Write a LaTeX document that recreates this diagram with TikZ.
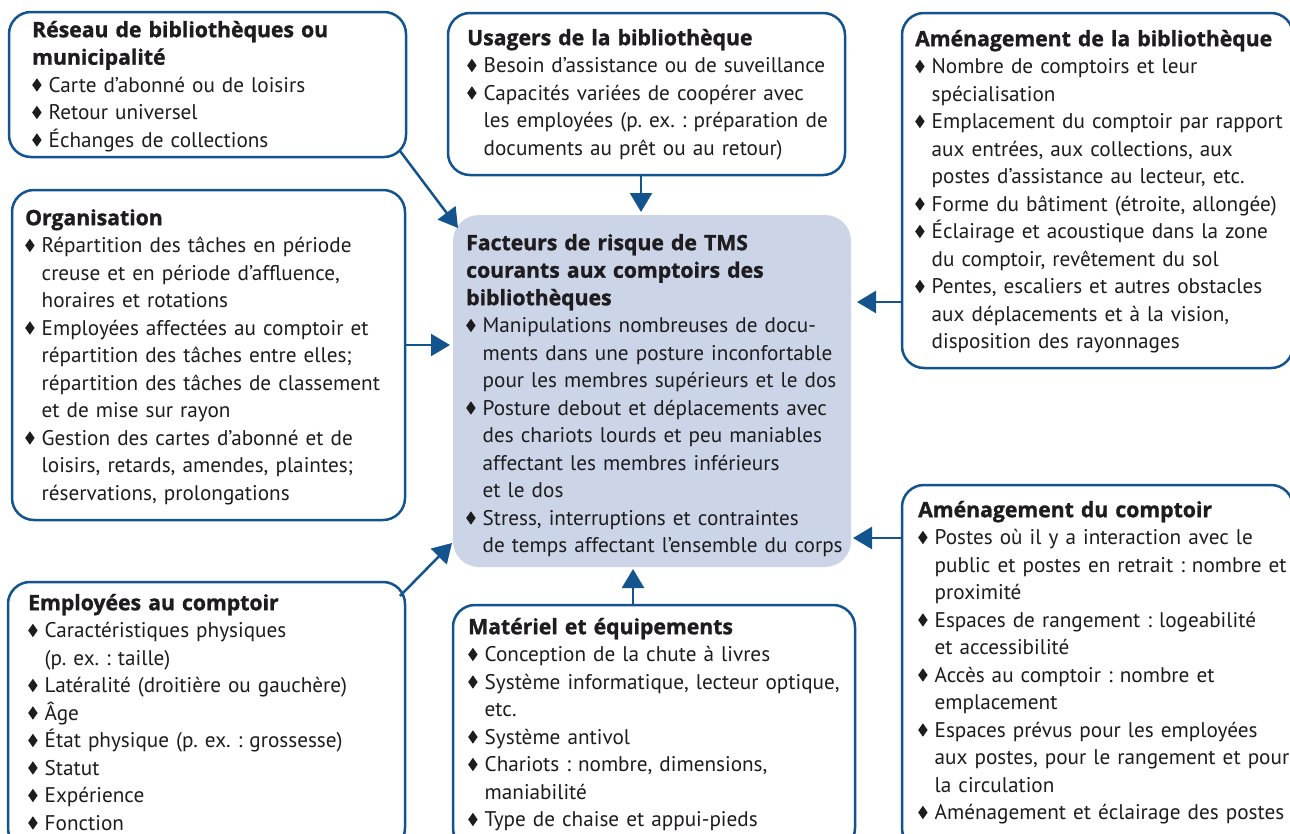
\documentclass[tikz,border=0pt]{standalone}
\usepackage{fontspec}
\setmainfont{PT Sans}
\newfontfamily\tfont[BoldFeatures={FakeBold=1.2}]{Open Sans}
\usetikzlibrary{arrows.meta}
\definecolor{bordc}{RGB}{20,84,142}
\definecolor{fillc}{RGB}{203,213,231}
\definecolor{txtc}{RGB}{30,28,30}
\frenchspacing
\newcommand{\dmd}{\raisebox{0.5pt}{\scalebox{0.7}[1]{\rotatebox{45}{\rule{9.5pt}{9.5pt}}}}}
\newcommand{\bul}{\makebox[16.5pt][l]{\dmd}}
\newcommand{\cnt}{\hspace*{16.5pt}}
\newcommand{\ttl}[1]{\rule{0pt}{20pt}{\tfont\bfseries\fontsize{21.2}{27.5}\selectfont #1}}
\newcommand{\tl}[1]{{\tfont\bfseries\fontsize{21.2}{27.5}\selectfont #1}}
\tikzset{
 box/.style={draw=bordc, line width=2.5pt, rounded corners=22pt, inner sep=0pt, outer sep=0pt},
 cbox/.style={fill=fillc, rounded corners=26pt, inner sep=0pt, outer sep=0pt},
 txt/.style={anchor=north west, inner sep=0pt, align=left, text width=430pt, text=txtc, font=\fontsize{21.2}{27.5}\selectfont},
 arr/.style={draw=bordc, line width=2.5pt, -{Triangle[length=19pt,width=22pt]}}
}
\begin{document}
\begin{tikzpicture}[x=1pt,y=-1pt]
\useasboundingbox (0,0) rectangle (1290,833);
\clip (0,0) rectangle (1290,833);
\fill[white] (0,0) rectangle (1290,833);
% boxes
\node[box, minimum width=397pt, minimum height=145pt] (reseau) at (207.5,84.5) {};
\node[box, minimum width=397pt, minimum height=162pt] (usagers) at (646.5,94) {};
\node[box, minimum width=391pt, minimum height=355pt] (amenbib) at (1097.5,190.5) {};
\node[box, minimum width=393pt, minimum height=330pt] (org) at (208.5,355) {};
\node[cbox, minimum width=398pt, minimum height=352pt] (centre) at (652,391) {};
\node[box, minimum width=397pt, minimum height=268pt] (employ) at (206.5,716) {};
\node[box, minimum width=402pt, minimum height=245pt] (materiel) at (654,727.5) {};
\node[box, minimum width=391pt, minimum height=365pt] (amencomp) at (1097.5,667.5) {};
% texts
\node[txt] (reseauT) at (32,17) {\ttl{Réseau de bibliothèques ou}\\\tl{municipalité}\\
\bul Carte d’abonné ou de loisirs\\
\bul Retour universel\\
\bul Échanges de collections};
\node[txt] (usagersT) at (467,25) {\ttl{Usagers de la bibliothèque}\\
\bul Besoin d’assistance ou de suveillance\\
\bul Capacités variées de coopérer avec\\
\cnt les employées (p. ex. : préparation de\\
\cnt documents au prêt ou au retour)};
\node[txt] (amenbibT) at (915,26) {\ttl{Aménagement de la bibliothèque}\\
\bul Nombre de comptoirs et leur\\
\cnt spécialisation\\
\bul Emplacement du comptoir par rapport\\
\cnt aux entrées, aux collections, aux\\
\cnt postes d’assistance au lecteur, etc.\\
\bul Forme du bâtiment (étroite, allongée)\\
\bul Éclairage et acoustique dans la zone\\
\cnt du comptoir, revêtement du sol\\
\bul Pentes, escaliers et autres obstacles\\
\cnt aux déplacements et à la vision,\\
\cnt disposition des rayonnages};
\node[txt] (orgT) at (25,205) {\ttl{Organisation}\\
\bul Répartition des tâches en période\\
\cnt creuse et en période d’affluence,\\
\cnt horaires et rotations\\
\bul Employées affectées au comptoir et\\
\cnt répartition des tâches entre elles;\\
\cnt répartition des tâches de classement\\
\cnt et de mise sur rayon\\
\bul Gestion des cartes d’abonné et de\\
\cnt loisirs, retards, amendes, plaintes;\\
\cnt réservations, prolongations};
\node[txt] (centreT) at (466,230) {\ttl{Facteurs de risque de TMS}\\
\tl{courants aux comptoirs des}\\
\tl{bibliothèques}\\
\bul Manipulations nombreuses de docu-\\
\cnt ments dans une posture inconfortable\\
\cnt pour les membres supérieurs et le dos\\
\bul Posture debout et déplacements avec\\
\cnt des chariots lourds et peu maniables\\
\cnt affectant les membres inférieurs\\
\cnt et le dos\\
\bul Stress, interruptions et contraintes\\
\cnt de temps affectant l’ensemble du corps};
\node[txt] (employT) at (28,590) {\ttl{Employées au comptoir}\\
\bul Caractéristiques physiques\\
\cnt (p. ex. : taille)\\
\bul Latéralité (droitière ou gauchère)\\
\bul Âge\\
\bul État physique (p. ex. : grossesse)\\
\bul Statut\\
\bul Expérience\\
\bul Fonction};
\node[txt] (materielT) at (468,614) {\ttl{Matériel et équipements}\\
\bul Conception de la chute à livres\\
\bul Système informatique, lecteur optique,\\
\cnt etc.\\
\bul Système antivol\\
\bul Chariots : nombre, dimensions,\\
\cnt maniabilité\\
\bul Type de chaise et appui-pieds};
\node[txt] (amencompT) at (918,497) {\ttl{Aménagement du comptoir}\\
\bul Postes où il y a interaction avec le\\
\cnt public et postes en retrait : nombre et\\
\cnt proximité\\
\bul Espaces de rangement : logeabilité\\
\cnt et accessibilité\\
\bul Accès au comptoir : nombre et\\
\cnt emplacement\\
\bul Espaces prévus pour les employées\\
\cnt aux postes, pour le rangement et pour\\
\cnt la circulation\\
\bul Aménagement et éclairage des postes};
% connectors
\coordinate (a1) at ([xshift=-6pt,yshift=6pt]reseau.south east);
\coordinate (b1) at ([xshift=5pt,yshift=-13pt]centre.north west);
\draw[arr] (a1) -- (b1);
\coordinate (a2) at ([xshift=-5.5pt]usagers.south);
\draw[arr, shorten >=3pt] (a2) -- (a2 |- centre.north);
\coordinate (a3) at ([yshift=-111.5pt]amenbib.west);
\draw[arr, shorten >=6pt] (a3) -- (a3 -| centre.east);
\coordinate (a4) at ([yshift=10pt]org.east);
\draw[arr, shorten >=3pt] (a4) -- (a4 -| centre.west);
\coordinate (a5) at ([yshift=129.5pt]amencomp.west);
\draw[arr, shorten >=2pt] (a5) -- (a5 -| centre.east);
\coordinate (a6) at ([xshift=-5pt,yshift=-14pt]employ.north east);
\coordinate (b6) at ([xshift=-1pt,yshift=24pt]centre.south west);
\draw[arr] (a6) -- (b6);
\coordinate (a7) at ([xshift=-21pt]materiel.north);
\draw[arr, shorten >=2pt] (a7) -- (a7 |- centre.south);
\end{tikzpicture}
\end{document}
